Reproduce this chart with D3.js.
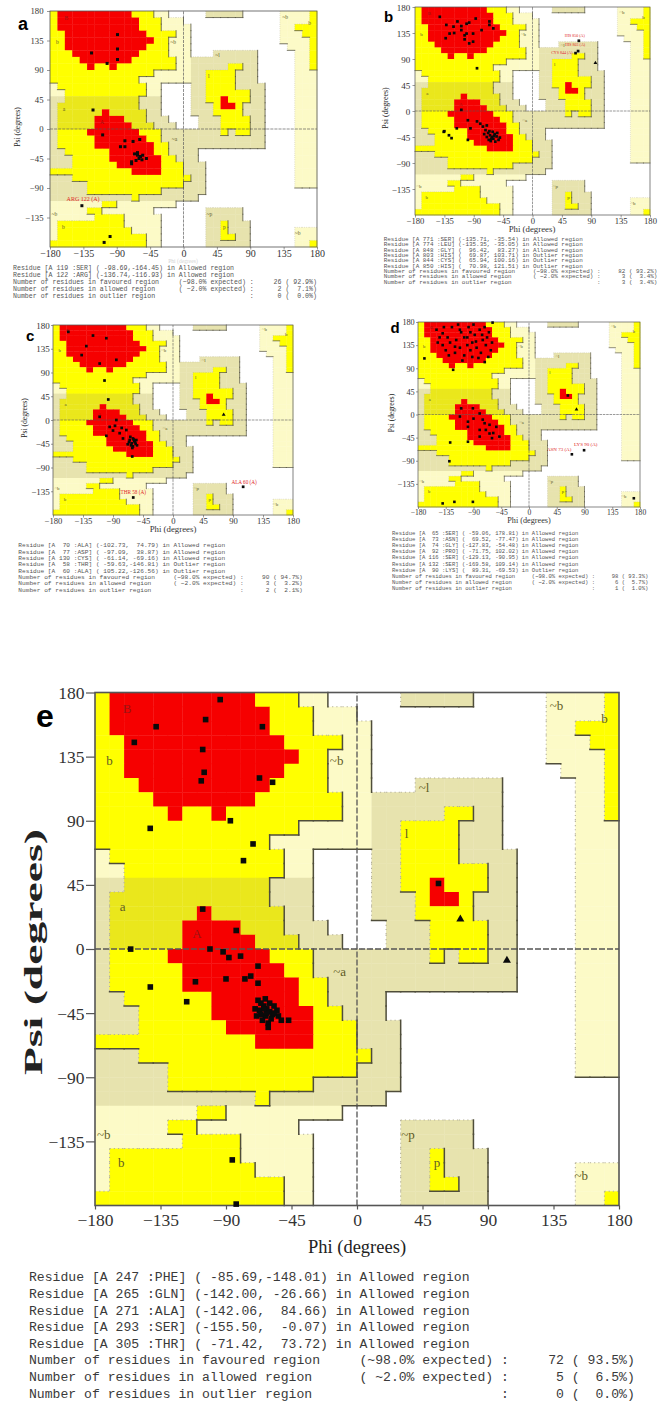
<!DOCTYPE html>
<html><head><meta charset="utf-8">
<script src="https://d3js.org/d3.v7.min.js"></script>
<style>html,body{margin:0;padding:0;background:#fff}svg{display:block}</style>
</head><body>
<svg id="chart" width="666" height="1401"></svg>
<script>
// ================= DATA =================
const phiTicks = [-180, -135, -90, -45, 0, 45, 90, 135, 180];
const psiTicks = [-135, -90, -45, 0, 45, 90, 135, 180];

// Ramachandran region map, 10-degree cells, rows psi 180 -> -180, cols phi -180 -> 180 (run-length coded)
// R core (favoured), Y allowed, D allowed (alpha band), K generous, P generous light, W disallowed
const regionRows = [
  "Y1R10Y3P2W2W3K5W5P4Y1",
  "Y1R11Y3P3W13P4Y1",
  "Y1R11Y3P3P1W12P2Y3",
  "Y2R11Y4P1P1W12P3Y2",
  "Y2R12Y2P2P1W12P4Y1",
  "Y2R11Y3P2P1W13P3Y1",
  "Y3R9Y4P2P1W3K6W5P2Y1",
  "Y4R7Y6P1P1K9W5P2Y1",
  "Y5R1Y2R1Y8P1P1K5Y2K2W5P2Y1",
  "Y14P4P1K2Y4K3W5P3",
  "Y12P6P1K2Y4K3W5P3",
  "P1Y12P2W3W1K2Y4K4W4P3",
  "P2Y11P2W3W1K2Y6K2W4P3",
  "K2D10K3W3W1K2Y2R1Y3K2W4P3",
  "K1D11K3W3W1K3Y1R2Y1K3W4P3",
  "K1D6R1D5K2W3W1K3Y4K3W4P3",
  "K1D5R4D3K3W2W2K3Y4K2W4P3",
  "K1D5R5D3K3W1W2K3Y4K2W4P3",
  "K1Y4R7Y3K3K5Y1K1Y2K2W4P3",
  "K1Y5R7Y2K3K11W4P3",
  "K1Y5R8Y2K2K11W4P3",
  "K2Y6R6Y2K2K2W13P3",
  "K3Y5R7Y2K1K2W13P3",
  "K3Y6R6Y3K3W12P3",
  "Y11R4Y3K3W12P3",
  "K3Y15Y1K2W12P3",
  "K5Y13K3W12P3",
  "K5Y10K3K3W15",
  "K11Y1K6K2W16",
  "P7Y2P8W1W18",
  "P5Y2P7W4W3K5W10",
  "P6Y4P5W3W3K5W10",
  "P1Y9P5W3W3K2Y1K3W9",
  "P1Y10P4W3W3K2Y1K3W6P3",
  "P1Y12P2W3W3K2Y2K2W6P3",
  "Y13P2W3W3K6W6P2Y1"
];

// region name labels [text, phi, psi]
const regionLabels = [
  ["B", -158, 168], ["b", -170, 131], ["~b", -14, 131], ["a", -161, 29], ["A", -110, 10],
  ["~a", -12, -17], ["~l", 46, 112], ["l", 34, 80], ["~b", 137, 170], ["b", 170, 161],
  ["~p", 35, -131], ["p", 55, -151], ["~b", 154, -160], ["~b", -174, -131], ["b", -162, -151]
];

// residues [phi, psi]
const pointsA = [[-89,144],[-89,122],[-89,106],[-103,100],[-124,116],[-122,29],[-109,-9],[-79,-18],[-85,-27],[-79,-27],
  [-68,-19],[-59,-16],[-66,-38],[-62,-40],[-58,-42],[-60,-45],[-64,-48],[-55,-40],[-70,-50],[-56,-47],[-70,-53],[-50,-45],
  [-62,-36],[-137,-117],[-99,-164],[-107,-173]];
const glyA = [];

const pointsB = [[-142,163],[-132,149],[-121,146],[-109,147],[-101,151],[-97,153],[-109,140],[-127,134],[-101,134],[-91,134],
  [-104,131],[-97,117],[-66,149],[-60,143],[-66,155],[-133,126],[-104,124],[-91,120],[-78,140],[-115,155],[-87,160],[-120,135],
  [-85,74],[-136,-36],[-135,-35],[-128,-42],[-124,-47],[-109,2],[-99,-16],[-95,-30],[-116,-30],[-99,-50],
  [-76,-27],[-72,-33],[-68,-38],[-65,-42],[-62,-45],[-60,-48],[-58,-40],[-55,-44],[-52,-50],[-64,-52],[-70,-45],[-66,-35],
  [-61,-36],[-57,-53],[-54,-38],[-50,-46],[-74,-40],[-63,-48],[-59,-43],[-67,-50],[-80,-22],[-85,-18],[-70,-25],
  [70.98,121.51],[69.87,103.71],[65.94,100.16]];
const glyB = [[96.42,83.27]];

const pointsC = [[-100,155],[-137,123],[-110,107],[-85,114],[-157,167],[-130,140],[-120,160],[-102.73,74.79],[-97.09,38.87],
  [-110,6],[-85,0],[-95,-13],[-87,-11],[-77,-15],[-70,-19],[-100,-30],[-80,-25],[-90,-20],[-75,-35],
  [-64,-32],[-60,-35],[-58,-40],[-62,-44],[-56,-45],[-60,-50],[-65,-38],[-55,-38],[-63,-48],[-57,-42],[-59,-37],
  [-66,-42],[-61,-53],[-68,-46],[-54,-48],[-61.14,-69.16],[-59.63,-146.81],[105.22,-126.56]];
const glyC = [[76,10]];

const pointsD = [[-59.06,178.81],[-169.58,109.14],[-123,87],[-150,165],[-140,158],[-132,150],[-125,170],[-118,145],[-110,160],
  [-105,150],[-98,170],[-92,140],[-88,155],[-80,165],[-75,145],[-70,135],[-65,160],[-62,125],[-140,135],[-135,125],
  [-128,140],[-120,120],[-112,130],[-105,115],[-100,135],[-95,125],[-85,130],[-78,120],[-72,170],[-68,150],[-60,140],
  [-145,150],[-115,175],[-90,175],[-82,110],[-108,105],[-130,115],[-100,150],[-120,132],[-76,155],[-66,112],
  [-71.75,102.02],[-95,160],[-138,170],[-86,142],[-148,140],[-112,165],[-92,112],
  [-110,12],[-91,12],[-80,2],[-99,-14],[-72,-17],[-64,-20],[-53,-24],[-48,-43],[-80,-43],[-80,-30],[-64,-37],[-99,-24],
  [-112,-4],[-90,-8],[-70,-30],[-58,-36],[-75,-10],[-60,-46],[-127.83,-54.48],[-129.13,-90.95],[-99,-53],
  [-140,-173],[-121,-170],[-91,-170],[69.52,-77.47],[89.31,-69.53],[63,37],[170,-163]];
const glyD = [[77,10]];

const pointsE = [[-94,175],[-104,161],[-138,156],[-153,145],[-65,156],[-106,140],[-105,124],[-107,118],[-67,120],[-58,117],
  [-87,90],[-142.06,84.66],[-71.42,73.72],[-78,62],[-106,28],[-83,13],[-155.5,-0.07],[-101,0],[-92,-2],[-88,-6],[-80,-5],
  [-68,-12],[-73,-19],[-77,-21],[-90,-21],[-111,-23],[-142,-26.66],[-68,-24],[-117,-37],
  [-64,-40],[-62,-42],[-60,-44],[-66,-38],[-58,-46],[-63,-47],[-67,-43],[-60,-38],[-55,-43],[-65,-50],[-61,-52],[-68,-36],
  [-57,-40],[-63,-35],[-70,-42],[-59,-49],[-62,-45],[-54,-47],[-66,-46],[-64,-42],[-47,-50],[-57,-45],[-52,-50],[-61,-55],
  [-69,-47],[-85.69,-148.01],[-83,-179],[56,46]];
const glyE = [[71,21],[103,-8]];

// outlier callouts [text, phi, psi]
const outliersA = [["ARG 122 (A)", -136.74, -116.93]];
const outliersB = [["HIS 850 (A)", 70.98, 121.51], ["HIS 803 (A)", 69.87, 103.71], ["CYS 844 (A)", 65.94, 100.16]];
const outliersC = [["THR 58 (A)", -59.63, -146.81], ["ALA 60 (A)", 105.22, -126.56]];
const outliersD = [["LYS 90 (A)", 89.31, -69.53], ["ASN 73 (A)", 69.52, -77.47]];
const outliersE = [];

// listed residues [number, name, phi, psi, region]
const residuesA = [[119,"SER",-98.69,-164.45,"Allowed"],[122,"ARG",-136.74,-116.93,"Allowed"]];
const residuesB = [[771,"SER",-135.71,-35.54,"Allowed"],[774,"LEU",-135.35,-35.05,"Allowed"],[848,"GLY",96.42,83.27,"Allowed"],
  [803,"HIS",69.87,103.71,"Outlier"],[844,"CYS",65.94,100.16,"Outlier"],[850,"HIS",70.98,121.51,"Outlier"]];
const residuesC = [[70,"ALA",-102.73,74.79,"Allowed"],[77,"ASP",-97.09,38.87,"Allowed"],[130,"CYS",-61.14,-69.16,"Allowed"],
  [58,"THR",-59.63,-146.81,"Outlier"],[60,"ALA",105.22,-126.56,"Outlier"]];
const residuesD = [[65,"SER",-59.06,178.81,"Allowed"],[73,"ASN",69.52,-77.47,"Allowed"],[74,"GLY",-127.83,-54.48,"Allowed"],
  [92,"PRO",-71.75,102.02,"Allowed"],[116,"SER",-129.13,-90.95,"Allowed"],[132,"SER",-169.58,109.14,"Allowed"],
  [90,"LYS",89.31,-69.53,"Outlier"]];
const residuesE = [[247,"PHE",-85.69,-148.01,"Allowed"],[265,"GLN",-142.00,-26.66,"Allowed"],[271,"ALA",-142.06,84.66,"Allowed"],
  [293,"SER",-155.50,-0.07,"Allowed"],[305,"THR",-71.42,73.72,"Allowed"]];

const summaryLabels = ["Number of residues in favoured region", "Number of residues in allowed region", "Number of residues in outlier region"];
const summaryExpected = ["(~98.0% expected)", "( ~2.0% expected)", ""];
const countsA = ["26 ( 92.9%)", "2 (  7.1%)", "0 (  0.0%)"];
const countsB = ["82 ( 93.2%)", "3 (  3.4%)", "3 (  3.4%)"];
const countsC = ["90 ( 94.7%)", "3 (  3.2%)", "2 (  2.1%)"];
const countsD = ["98 ( 93.3%)", "6 (  5.7%)", "1 (  1.0%)"];
const countsE = ["72 ( 93.5%)", "5 (  6.5%)", "0 (  0.0%)"];

// ================= LAYOUT / STYLE =================
const panels = [
  {id:"a", x0:50, x1:317, y0:11, y1:247, s:0.51, yFont:8.7, xFont:10, yTick:3, yPad:3.5, xTick:2.5, xPad:0.3,
   letter:{x:18, y:30, size:18}, psi:{x:18, y:127, size:7.6}, phi:{x:183, y:261.6, size:5.6, color:"#d4d4d4"},
   text:{x0:13, cw:3.95, y0:268.3, step:7}, pt:3.0, lab:5.6, out:6.0,
   outPos:{"ARG 122 (A)":{dx:1, dy:-4.6, anchor:"middle"}},
   data:{p:pointsA, g:glyA, o:outliersA, r:residuesA, c:countsA}},
  {id:"b", x0:415, x1:650, y0:7, y1:215, s:0.45, yFont:9, xFont:8.6, yTick:2.5, yPad:2.2, xTick:2.5, xPad:0.2,
   letter:{x:384, y:21.5, size:15}, psi:{x:386, y:108, size:8}, phi:{x:532, y:230, size:8.8, color:"#333"},
   text:{x0:383.7, cw:3.56, y0:239.3, step:5.35}, pt:2.7, lab:5, out:4,
   outPos:{"HIS 850 (A)":{dx:-4, dy:-4, anchor:"middle"}, "HIS 803 (A)":{dx:-3, dy:-5.5, anchor:"middle"},
           "CYS 844 (A)":{dx:-3, dy:0.5, anchor:"end"}},
   data:{p:pointsB, g:glyB, o:outliersB, r:residuesB, c:countsB}},
  {id:"c", x0:53, x1:293, y0:325, y1:515, s:0.46, yFont:9, xFont:8.6, yTick:2, yPad:1.2, xTick:2.5, xPad:0.2,
   letter:{x:26, y:340.5, size:15}, psi:{x:25, y:418, size:7.6}, phi:{x:173, y:530, size:8.8, color:"#333"},
   text:{x0:18.3, cw:3.70, y0:545.7, step:6.33}, pt:2.7, lab:5, out:5.2,
   outPos:{"THR 58 (A)":{dx:0, dy:-3.5, anchor:"middle"}, "ALA 60 (A)":{dx:1, dy:-3, anchor:"middle"}},
   data:{p:pointsC, g:glyC, o:outliersC, r:residuesC, c:countsC}},
  {id:"d", x0:418, x1:640, y0:322, y1:507, s:0.42, yFont:8.2, xFont:7.6, yTick:2, yPad:1.3, xTick:2, xPad:0.2,
   letter:{x:390.5, y:333, size:15}, psi:{x:392, y:413, size:7.4}, phi:{x:529, y:521, size:8.2, color:"#333"},
   text:{x0:392, cw:3.34, y0:533.3, step:6.15}, pt:2.6, lab:4.7, out:5,
   outPos:{"LYS 90 (A)":{dx:-10, dy:-4, anchor:"start"}, "ASN 73 (A)":{dx:-0.5, dy:-3.5, anchor:"end"}},
   data:{p:pointsD, g:glyD, o:outliersD, r:residuesD, c:countsD}},
  {id:"e", x0:95, x1:619, y0:692.5, y1:1205.5, s:1, yFont:17.5, xFont:17.5, yTick:9, yPad:1.5, xTick:4, xPad:4.2,
   letter:{x:36, y:727, size:32}, psi:{x:36, y:952, size:26, len:246, bold:true}, phi:{x:357, y:1249, size:18.5, color:"#222"},
   text:{x0:29, cw:7.87, y0:1278, step:16.6}, pt:5.6, lab:13, out:10, outPos:{},
   data:{p:pointsE, g:glyE, o:outliersE, r:residuesE, c:countsE}}
];

const regionColor = {R:"#f60000", Y:"#ffff00", D:"#eae71c", K:"#e7e3ae", P:"#fcfac7", W:"#ffffff"};
const regionLevel = {R:3, Y:2, D:2, K:1, P:1, W:0};

// ================= DRAW =================
const svg = d3.select("#chart");
svg.append("rect").attr("width", 666).attr("height", 1401).attr("fill", "#fff");

function decodeRow(rle) {
  const out = [];
  rle.replace(/([A-Z])(\d+)/g, (m, c, n) => { for (let i = 0; i < +n; i++) out.push(c); return m; });
  while (out.length < 36) out.push("W");
  return out.slice(0, 36);
}
const grid = regionRows.map(decodeRow);

function fmtResidue(r) {
  const id = "A " + String(r[0]).padStart(3, " ");
  return "Residue [" + id + " :" + r[1] + "] (" + r[2].toFixed(2).padStart(7, " ") + "," +
    r[3].toFixed(2).padStart(7, " ") + ") in " + r[4] + " region";
}
function fmtSummary(i, tail) {
  return (summaryLabels[i].padEnd(42, " ") + summaryExpected[i]).padEnd(60, " ") + ":" + tail.padStart(16, " ");
}

panels.forEach(cfg => {
  const g = svg.append("g").attr("class", "panel-" + cfg.id);
  const x = d3.scaleLinear().domain([-180, 180]).range([cfg.x0, cfg.x1]);
  const y = d3.scaleLinear().domain([-180, 180]).range([cfg.y1, cfg.y0]);
  const s = cfg.s;

  // region cells
  const cells = [];
  grid.forEach((row, r) => row.forEach((code, c) => cells.push({r, c, code})));
  g.append("g").selectAll("rect").data(cells).join("rect")
    .attr("x", d => x(-180 + 10 * d.c))
    .attr("y", d => y(180 - 10 * d.r))
    .attr("width", d => x(-170 + 10 * d.c) - x(-180 + 10 * d.c) + 0.35)
    .attr("height", d => y(170 - 10 * d.r) - y(180 - 10 * d.r) + 0.35)
    .attr("fill", d => regionColor[d.code]);

  // region boundary lines
  const solid = [], dotted = [];
  for (let r = 0; r < 36; r++) {
    for (let c = 0; c < 36; c++) {
      const a = grid[r][c];
      if (c < 35) {
        const b = grid[r][c + 1];
        if (a !== "R" && b !== "R" && regionLevel[a] !== regionLevel[b]) {
          const seg = {x1: x(-170 + 10 * c), x2: x(-170 + 10 * c), y1: y(180 - 10 * r), y2: y(170 - 10 * r)};
          (regionLevel[a] > regionLevel[b] ? solid : dotted).push(seg);
        }
      }
      if (r < 35) {
        const b = grid[r + 1][c];
        if (a !== "R" && b !== "R" && regionLevel[a] !== regionLevel[b]) {
          const seg = {x1: x(-180 + 10 * c), x2: x(-170 + 10 * c), y1: y(170 - 10 * r), y2: y(170 - 10 * r)};
          (regionLevel[a] > regionLevel[b] ? solid : dotted).push(seg);
        }
      }
    }
  }
  g.append("g").selectAll("line").data(dotted).join("line")
    .attr("x1", d => d.x1).attr("x2", d => d.x2).attr("y1", d => d.y1).attr("y2", d => d.y2)
    .attr("stroke", "#b4b09a").attr("stroke-width", Math.max(0.5, 1.1 * s))
    .attr("stroke-dasharray", `${1.2 * s} ${3 * s}`);
  g.append("g").selectAll("line").data(solid).join("line")
    .attr("x1", d => d.x1).attr("x2", d => d.x2).attr("y1", d => d.y1).attr("y2", d => d.y2)
    .attr("stroke", "#4f4d3a").attr("stroke-width", Math.max(0.6, 1.5 * s)).attr("stroke-linecap", "square");

  // zero lines
  g.append("line").attr("x1", x(0)).attr("x2", x(0)).attr("y1", y(-180)).attr("y2", y(180))
    .attr("stroke", "#555").attr("stroke-width", Math.max(0.6, 1.3 * s)).attr("stroke-dasharray", `${6 * s} ${2 * s}`);
  g.append("line").attr("x1", x(-180)).attr("x2", x(180)).attr("y1", y(0)).attr("y2", y(0))
    .attr("stroke", "#555").attr("stroke-width", Math.max(0.6, 1.3 * s)).attr("stroke-dasharray", `${6 * s} ${2 * s}`);

  // region labels
  g.append("g").selectAll("text").data(regionLabels).join("text")
    .attr("x", d => x(d[1])).attr("y", d => y(d[2]))
    .attr("text-anchor", "middle").attr("dominant-baseline", "middle")
    .attr("font-family", "Liberation Serif, serif").attr("font-size", cfg.lab)
    .attr("fill", d => /[A-Z]/.test(d[0]) ? "#9a1414" : "#5e5b25")
    .text(d => d[0]);

  // frame
  g.append("rect").attr("x", cfg.x0).attr("y", cfg.y0).attr("width", cfg.x1 - cfg.x0).attr("height", cfg.y1 - cfg.y0)
    .attr("fill", "none").attr("stroke", "#555").attr("stroke-width", Math.max(0.7, 1.6 * s));

  // axes
  const yAxis = g.append("g").attr("transform", `translate(${cfg.x0},0)`)
    .call(d3.axisLeft(y).tickValues(psiTicks).tickSize(cfg.yTick).tickPadding(cfg.yPad).tickFormat(d3.format("d")));
  const xAxis = g.append("g").attr("transform", `translate(0,${cfg.y1})`)
    .call(d3.axisBottom(x).tickValues(phiTicks).tickSize(cfg.xTick).tickPadding(cfg.xPad).tickFormat(d3.format("d")));
  [yAxis, xAxis].forEach(ax => {
    ax.select(".domain").remove();
    ax.selectAll("line").attr("stroke", "#555").attr("stroke-width", Math.max(0.6, 1.2 * s));
    ax.selectAll("text").attr("font-family", "Liberation Serif, serif").attr("fill", "#333");
  });
  yAxis.selectAll("text").attr("font-size", cfg.yFont).attr("dy", "0.34em");
  xAxis.selectAll("text").attr("font-size", cfg.xFont);

  // axis titles
  const psiT = g.append("text").attr("transform", `translate(${cfg.psi.x},${cfg.psi.y}) rotate(-90)`)
    .attr("text-anchor", "middle").attr("dominant-baseline", "middle")
    .attr("font-family", "Liberation Serif, serif").attr("font-size", cfg.psi.size)
    .attr("font-weight", cfg.psi.bold ? "bold" : "normal").attr("fill", "#222").text("Psi (degrees)");
  if (cfg.psi.len) psiT.attr("textLength", cfg.psi.len).attr("lengthAdjust", "spacingAndGlyphs");
  g.append("text").attr("x", cfg.phi.x).attr("y", cfg.phi.y)
    .attr("text-anchor", "middle").attr("dominant-baseline", "middle")
    .attr("font-family", "Liberation Serif, serif").attr("font-size", cfg.phi.size)
    .attr("fill", cfg.phi.color).text("Phi (degrees)");

  // panel letter
  g.append("text").attr("x", cfg.letter.x).attr("y", cfg.letter.y)
    .attr("font-family", "Liberation Sans, Arial, sans-serif").attr("font-weight", "900")
    .attr("font-size", cfg.letter.size).attr("fill", "#000").text(cfg.id);

  // residue points
  const ps = cfg.pt;
  g.append("g").selectAll("rect").data(cfg.data.p).join("rect")
    .attr("x", d => x(d[0]) - ps / 2).attr("y", d => y(d[1]) - ps / 2)
    .attr("width", ps).attr("height", ps).attr("fill", "#0a0a0a");
  g.append("g").selectAll("path").data(cfg.data.g).join("path")
    .attr("transform", d => `translate(${x(d[0])},${y(d[1])})`)
    .attr("d", d3.symbol(d3.symbolTriangle, ps * ps * 0.9)())
    .attr("fill", "#0a0a0a");

  // outlier callouts
  const op = d => cfg.outPos[d[0]] || {dx:0, dy:-4, anchor:"middle"};
  g.append("g").selectAll("text").data(cfg.data.o).join("text")
    .attr("x", d => x(d[1]) + op(d).dx).attr("y", d => y(d[2]) + op(d).dy)
    .attr("text-anchor", d => op(d).anchor)
    .attr("font-family", "Liberation Serif, serif").attr("font-size", cfg.out)
    .attr("fill", "#e02424").text(d => d[0]);

  // text report
  const lines = cfg.data.r.map(fmtResidue).concat(cfg.data.c.map((t, i) => fmtSummary(i, t)));
  const fs = cfg.text.cw / 0.6;
  g.append("g").selectAll("text").data(lines).join("text")
    .attr("x", cfg.text.x0).attr("y", (d, i) => cfg.text.y0 + i * cfg.text.step)
    .attr("dominant-baseline", "middle")
    .attr("xml:space", "preserve").style("white-space", "pre")
    .attr("font-family", "Liberation Mono, DejaVu Sans Mono, monospace").attr("font-size", fs)
    .attr("fill", cfg.id === "e" ? "#3a3a3a" : "#555").text(d => d);
});
</script>
</body></html>
